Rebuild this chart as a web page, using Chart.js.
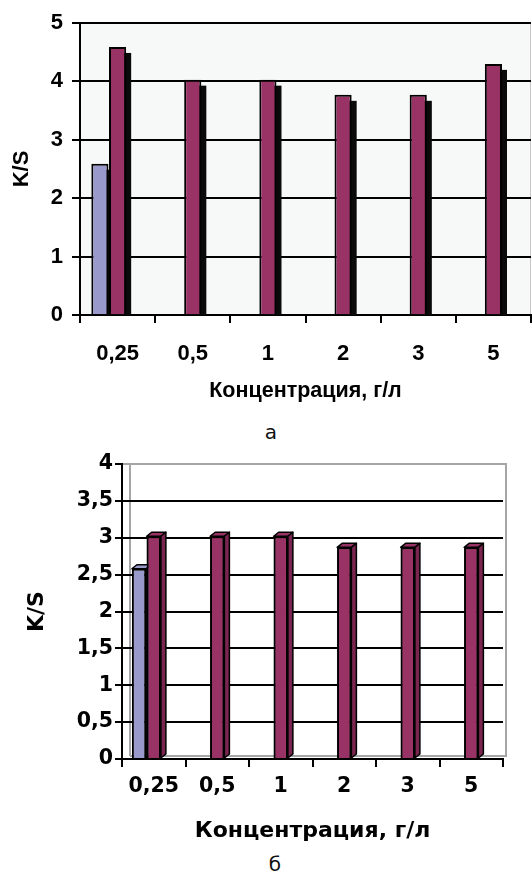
<!DOCTYPE html>
<html><head><meta charset="utf-8">
<script src="https://cdn.jsdelivr.net/npm/chart.js@4/dist/chart.umd.min.js"></script>
<style>
html,body{margin:0;padding:0;background:#fff;width:532px;height:871px;overflow:hidden;position:relative}
.wrap{position:absolute;left:0;width:532px;height:410px}
.cap{position:absolute;width:40px;text-align:center;font-family:'DejaVu Sans';font-size:20px;line-height:20px;color:#111}
</style></head><body>
<div class="wrap" style="top:0"><canvas id="c1" width="532" height="410"></canvas></div>
<div class="cap" style="left:251px;top:422px">а</div>
<div class="wrap" style="top:440px"><canvas id="c2" width="532" height="410"></canvas></div>
<div class="cap" style="left:255px;top:854px">б</div>
<script>
// ---- data ----
const categories = ['0,25', '0,5', '1', '2', '3', '5'];
const blueA = [2.59, null, null, null, null, null];
const redA  = [4.59, 4.03, 4.03, 3.77, 3.77, 4.30];
const blueB = [2.58, null, null, null, null, null];
const redB  = [3.02, 3.02, 3.02, 2.87, 2.87, 2.87];
const yTicksA = ['0', '1', '2', '3', '4', '5'];
const yTicksB = ['0', '0,5', '1', '1,5', '2', '2,5', '3', '3,5', '4'];
const xTitle = 'Концентрация, г/л';
const yTitle = 'K/S';

const BLUE = '#9999cc', RED = '#993366', REDSIDE = '#7a2550';

function datasets(blue, red, catPct) {
  const common = {borderColor: '#000', borderWidth: 2, categoryPercentage: catPct, barPercentage: 0.97};
  return [
    Object.assign({data: blue, backgroundColor: BLUE, sideColor: '#6f6fa0'}, common),
    Object.assign({data: red, backgroundColor: RED, sideColor: REDSIDE}, common),
    Object.assign({data: categories.map(() => null), backgroundColor: 'transparent'}, common)
  ];
}

// ---- chart A (flat bars with shadow) ----
const fontA = {family: 'Liberation Sans', weight: 'bold', size: 22, lineHeight: 1.2};
const titleFontA = {family: 'Liberation Sans', weight: 'bold', size: 21.5, lineHeight: 1};

const bgPlugin = {
  id: 'bgA',
  beforeDraw(chart) {
    const a = chart.chartArea, ctx = chart.ctx;
    ctx.save();
    ctx.fillStyle = '#f7f9f9';
    ctx.fillRect(a.left, a.top, a.right - a.left, a.bottom - a.top);
    ctx.strokeStyle = '#c8c8c8';
    ctx.lineWidth = 1;
    ctx.beginPath(); ctx.moveTo(a.right - 0.5, a.top); ctx.lineTo(a.right - 0.5, a.bottom); ctx.stroke();
    ctx.restore();
  }
};
const shadowPlugin = {
  id: 'shadowA',
  beforeDatasetsDraw(chart) {
    const a = chart.chartArea, ctx = chart.ctx;
    ctx.save();
    ctx.beginPath(); ctx.rect(a.left, a.top, a.right - a.left, a.bottom - a.top); ctx.clip();
    ctx.fillStyle = '#0a0a0a';
    chart.data.datasets.forEach((ds, i) => {
      chart.getDatasetMeta(i).data.forEach((el, j) => {
        if (ds.data[j] == null) return;
        const p = el.getProps(['x', 'y', 'base', 'width'], true);
        ctx.fillRect(p.x - p.width / 2 + 5, p.y + 6, p.width, p.base - p.y);
      });
    });
    ctx.restore();
  }
};

new Chart(document.getElementById('c1'), {
  type: 'bar',
  data: {labels: categories, datasets: datasets(blueA, redA, 0.706)},
  options: {
    responsive: false, animation: false,
    layout: {padding: {top: 23, right: 1, left: 0, bottom: 0}},
    plugins: {legend: {display: false}, tooltip: {enabled: false}},
    scales: {
      x: {
        grid: {offset: true, drawOnChartArea: false, color: '#000', lineWidth: 2, tickLength: 8},
        border: {color: '#000', width: 2},
        ticks: {font: fontA, color: '#000', padding: 18, maxRotation: 0},
        title: {display: true, text: xTitle, font: titleFontA, color: '#000', padding: {top: 0, bottom: 8}},
        afterFit(s) { s.height = 95; }
      },
      y: {
        min: 0, max: 5,
        ticks: {stepSize: 1, callback: (v, i) => yTicksA[i], font: fontA, color: '#000', padding: 9},
        grid: {color: '#000', lineWidth: 2, tickLength: 8},
        border: {color: '#000', width: 2},
        title: {display: true, text: yTitle, font: Object.assign({}, titleFontA, {size: 22}), color: '#000', padding: {top: 11, bottom: 0}},
        afterFit(s) { s.width = 80; }
      }
    }
  },
  plugins: [bgPlugin, shadowPlugin]
});

// ---- chart B (3D-looking bars) ----
const fontB = {family: 'DejaVu Sans', weight: 'bold', size: 20.5, lineHeight: 1.2};
const titleFontB = {family: 'DejaVu Sans', weight: 'bold', size: 22, lineHeight: 1};

const wallPlugin = {
  id: 'wallB',
  beforeDraw(chart) {
    const a = chart.chartArea, ctx = chart.ctx;
    ctx.save();
    ctx.strokeStyle = '#a6a6a6';
    ctx.lineWidth = 2;
    ctx.beginPath();
    ctx.moveTo(a.left + 8, a.bottom - 3);
    ctx.lineTo(a.left + 8, a.top);
    ctx.lineTo(a.right + 3, a.top);
    ctx.lineTo(a.right + 3, a.bottom - 3);
    ctx.lineTo(a.left + 8, a.bottom - 3);
    ctx.stroke();
    ctx.restore();
  }
};
const box3dPlugin = {
  id: 'box3dB',
  afterDatasetsDraw(chart) {
    const ctx = chart.ctx, d = 5, h = 4;
    ctx.save();
    [0, 1].forEach(i => {
      const ds = chart.data.datasets[i];
      chart.getDatasetMeta(i).data.forEach((el, j) => {
        if (ds.data[j] == null) return;
        if (i === 1) el.draw(ctx);
        const p = el.getProps(['x', 'y', 'base', 'width'], true);
        const l = p.x - p.width / 2, r = p.x + p.width / 2;
        ctx.lineWidth = 1.5; ctx.strokeStyle = '#000'; ctx.lineJoin = 'round';
        ctx.beginPath();
        ctx.moveTo(l, p.y); ctx.lineTo(l + d, p.y - h); ctx.lineTo(r + d, p.y - h); ctx.lineTo(r, p.y); ctx.closePath();
        ctx.fillStyle = ds.backgroundColor; ctx.fill(); ctx.stroke();
        ctx.beginPath();
        ctx.moveTo(r, p.y); ctx.lineTo(r + d, p.y - h); ctx.lineTo(r + d, p.base - h); ctx.lineTo(r, p.base); ctx.closePath();
        ctx.fillStyle = ds.sideColor; ctx.fill(); ctx.stroke();
      });
    });
    ctx.restore();
  }
};

new Chart(document.getElementById('c2'), {
  type: 'bar',
  data: {labels: categories, datasets: datasets(blueB, redB, 0.695)},
  options: {
    responsive: false, animation: false,
    layout: {padding: {top: 24, right: 29, left: 0, bottom: 0}},
    plugins: {legend: {display: false}, tooltip: {enabled: false}},
    scales: {
      x: {
        grid: {offset: true, drawOnChartArea: false, color: '#000', lineWidth: 2, tickLength: 8},
        border: {color: '#000', width: 2},
        ticks: {font: fontB, color: '#000', padding: 7, maxRotation: 0},
        title: {display: true, text: xTitle, font: titleFontB, color: '#000', padding: {top: 0, bottom: 8}},
        afterFit(s) { s.height = 91; }
      },
      y: {
        min: 0, max: 4,
        ticks: {stepSize: 0.5, callback: (v, i) => yTicksB[i], font: fontB, color: '#000', padding: 2},
        grid: {color: ctx => (ctx.tick && ctx.tick.value === 4 ? '#a6a6a6' : '#000'), tickColor: '#000', lineWidth: 2, tickLength: 7},
        border: {color: '#000', width: 2},
        title: {display: true, text: yTitle, font: titleFontB, color: '#000', padding: {top: 26, bottom: 0}},
        afterFit(s) { s.width = 122; }
      }
    }
  },
  plugins: [wallPlugin, box3dPlugin]
});
</script>
</body></html>
